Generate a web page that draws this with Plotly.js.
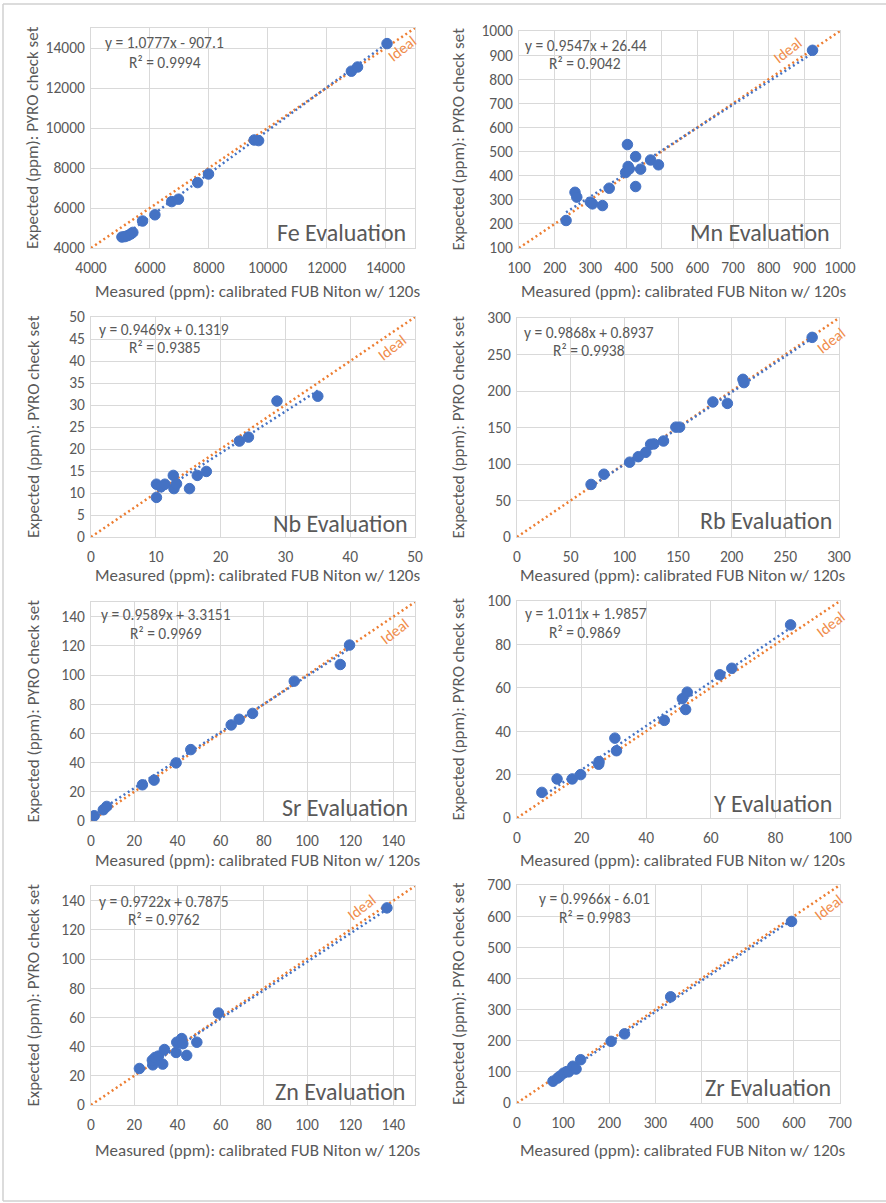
<!DOCTYPE html>
<html><head><meta charset="utf-8">
<script src="https://cdn.plot.ly/plotly-3.0.1.min.js"></script>
<style>html,body{margin:0;padding:0;background:#fff}</style>
</head><body><div id="chart" style="width:886px;height:1203px"></div>
<script>
// ---------------- DATA ----------------
const elements = ['Fe', 'Mn', 'Nb', 'Rb', 'Sr', 'Y', 'Zn', 'Zr'];

const feMeasured = [5050, 5150, 5250, 5350, 5420, 5750, 6170, 6740, 6970, 7620, 7990, 9540, 9690, 12840, 13050, 14050];
const feExpected = [4550, 4570, 4620, 4700, 4780, 5350, 5660, 6320, 6440, 7270, 7700, 9400, 9370, 12840, 13050, 14220];

const mnMeasured = [232, 257, 262, 300, 306, 334, 353, 404, 399, 406, 409, 427, 427, 441, 469, 491, 923];
const mnExpected = [214, 331, 311, 290, 283, 276, 348, 529, 413, 438, 428, 479, 355, 427, 465, 445, 920];

const nbMeasured = [10.1, 10.1, 10.8, 11.4, 12.7, 12.8, 13.2, 15.2, 16.4, 17.8, 22.9, 24.3, 28.7, 35.0];
const nbExpected = [9.0, 12.0, 11.4, 12.0, 14.0, 11.0, 12.1, 11.0, 14.0, 14.9, 21.8, 22.7, 30.9, 32.0];

const rbMeasured = [69, 81, 105, 113, 120, 124.5, 127.5, 136.5, 148, 151.5, 182.5, 196, 210.5, 211.5, 275];
const rbExpected = [72, 86, 102.5, 110, 116, 127, 127.5, 131.5, 150.5, 150.5, 185, 183, 216, 211.5, 273.5];

const srMeasured = [1.5, 5.7, 7.3, 23.8, 29.2, 39.4, 46.2, 64.9, 68.6, 74.8, 94.1, 115.4, 119.7];
const srExpected = [3.6, 7.7, 10.0, 24.8, 28.0, 39.8, 48.9, 65.8, 69.7, 73.7, 95.8, 107.2, 120.5];

const yMeasured = [7.7, 12.4, 17.1, 19.7, 25.3, 25.4, 30.3, 30.8, 45.6, 51.2, 52.7, 52.2, 62.8, 66.5, 84.7];
const yExpected = [11.8, 18.0, 18.0, 20.0, 24.8, 26.0, 36.8, 31.0, 45.0, 55.0, 58.0, 50.0, 66.0, 69.0, 89.0];

const znMeasured = [22.4, 28.6, 28.4, 29.7, 31.2, 33.2, 34.0, 39.4, 39.7, 42.0, 42.5, 44.3, 49.0, 59.0, 137.0];
const znExpected = [25.0, 27.5, 30.7, 32.6, 33.5, 28.0, 38.0, 36.0, 43.0, 45.5, 42.0, 34.0, 43.0, 63.0, 135.0];

const zrMeasured = [78, 88, 93, 101, 108, 112, 121, 128, 138, 204, 233, 333, 595];
const zrExpected = [70, 80, 86, 96, 101, 100, 118, 109, 139, 198, 222, 341, 583];

const fitSlopes = [1.0777, 0.9547, 0.9469, 0.9868, 0.9589, 1.011, 0.9722, 0.9966];
const fitIntercepts = [-907.1, 26.44, 0.1319, 0.8937, 3.3151, 1.9857, 0.7875, -6.01];
const fitEquations = ['y = 1.0777x - 907.1', 'y = 0.9547x + 26.44', 'y = 0.9469x + 0.1319', 'y = 0.9868x + 0.8937',
                      'y = 0.9589x + 3.3151', 'y = 1.011x + 1.9857', 'y = 0.9722x + 0.7875', 'y = 0.9966x - 6.01'];
const rSquared = ['0.9994', '0.9042', '0.9385', '0.9938', '0.9969', '0.9869', '0.9762', '0.9983'];

const axisMin = [4000, 100, 0, 0, 0, 0, 0, 0];
const axisMax = [15000, 1000, 50, 300, 150, 100, 150, 700];
const xStep = [2000, 100, 10, 50, 20, 20, 20, 100];
const yStep = [2000, 100, 5, 50, 20, 20, 20, 100];

const xAxisTitle = 'Measured (ppm): calibrated FUB Niton w/ 120s';
const yAxisTitle = 'Expected (ppm): PYRO check set';
const idealLabel = 'Ideal';

const measured = [feMeasured, mnMeasured, nbMeasured, rbMeasured, srMeasured, yMeasured, znMeasured, zrMeasured];
const expected = [feExpected, mnExpected, nbExpected, rbExpected, srExpected, yExpected, znExpected, zrExpected];

// ---------------- LAYOUT (pixels) ----------------
const W = 886, H = 1203;
const fx = p => p / W;
const fy = p => 1 - p / H;
const boxes = [[91,415,28,248],[519,840,31,248],[91,415,317,537],[517,839,318,537],
               [91,415,602,821],[517,840,601,818],[91,415,886,1105],[517,840,885,1103]];
const xTitleY = [291, 291, 576, 575, 860, 860, 1150, 1150];
const eqPos = [[103,43,127,62],[523,45,547,64],[97,329,127,347],[522,333,551,351],
               [99,614,128,633],[523,613,547,632],[97,901,126,919],[537,898,557,917]];
const evalPos = [[408,232],[832,232],[410,523],[834,521],[410,807],[834,803],[407,1091],[833,1087]];
const idealPos = [[402,49],[787,50],[392,348],[831,341],[394,631],[830,624],[361,907],[828,907]];

const FONT = "Carlito, Calibri, 'Open Sans', sans-serif";
const GRAY = '#595959';
const GRID = '#D9D9D9';
const BLUE = '#4472C4';
const ORANGE = '#ED7D31';

const traces = [];
const frameLine = (x0, y0, x1, y1) => ({type: 'line', xref: 'paper', yref: 'paper', x0: fx(x0), x1: fx(x1), y0: fy(y0), y1: fy(y1),
  line: {color: '#D0D0D0', width: 1.5}, layer: 'below'});
const layout = {
  width: W, height: H,
  margin: {l: 0, r: 0, t: 0, b: 0},
  paper_bgcolor: '#fff', plot_bgcolor: '#fff',
  showlegend: false,
  font: {family: FONT, color: GRAY},
  annotations: [],
  shapes: [frameLine(3, 4, 886, 4), frameLine(3, 4, 3, 1201), frameLine(3, 1201, 886, 1201)]
};

elements.forEach((el, i) => {
  const n = i + 1;
  const xa = 'x' + (n === 1 ? '' : n), ya = 'y' + (n === 1 ? '' : n);
  const xKey = 'xaxis' + (n === 1 ? '' : n), yKey = 'yaxis' + (n === 1 ? '' : n);
  const [l, r, t, b] = boxes[i];
  const common = {
    range: [axisMin[i], axisMax[i]], autorange: false, tick0: axisMin[i], tickformat: 'd',
    showgrid: true, gridcolor: GRID, gridwidth: 1, zeroline: false,
    showline: true, linecolor: GRID, linewidth: 1, mirror: true, ticks: '',
    tickfont: {family: FONT, size: 15.5, color: GRAY}, fixedrange: true
  };
  layout[xKey] = Object.assign({}, common, {domain: [fx(l), fx(r)], anchor: ya, dtick: xStep[i], ticklabelstandoff: 5});
  layout[yKey] = Object.assign({}, common, {domain: [fy(b), fy(t)], anchor: xa, dtick: yStep[i], ticklabelstandoff: 2});

  const xs = measured[i], ys = expected[i];
  // ideal line y = x
  traces.push({x: [axisMin[i], axisMax[i]], y: [axisMin[i], axisMax[i]], xaxis: xa, yaxis: ya,
               mode: 'lines', line: {color: ORANGE, width: 2.5, dash: '2px,3px'}, hoverinfo: 'skip'});
  // linear trendline
  const x0 = Math.min(...xs), x1 = Math.max(...xs);
  traces.push({x: [x0, x1], y: [fitSlopes[i] * x0 + fitIntercepts[i], fitSlopes[i] * x1 + fitIntercepts[i]],
               xaxis: xa, yaxis: ya, mode: 'lines', line: {color: BLUE, width: 2.5, dash: '2px,3px'}, hoverinfo: 'skip'});
  // points
  traces.push({x: xs, y: ys, xaxis: xa, yaxis: ya, mode: 'markers', name: el,
               marker: {color: BLUE, size: 10.5, line: {color: BLUE, width: 1}}});

  const e = eqPos[i];
  layout.annotations.push({xref: 'paper', yref: 'paper', x: fx(e[0]), y: fy(e[1]), xanchor: 'left', yanchor: 'middle',
    text: fitEquations[i], showarrow: false, font: {family: FONT, size: 15.5, color: GRAY}});
  layout.annotations.push({xref: 'paper', yref: 'paper', x: fx(e[2]), y: fy(e[3]), xanchor: 'left', yanchor: 'middle',
    text: 'R² = ' + rSquared[i], showarrow: false, font: {family: FONT, size: 15.5, color: GRAY}});
  const ev = evalPos[i];
  layout.annotations.push({xref: 'paper', yref: 'paper', x: fx(ev[0]), y: fy(ev[1]), xanchor: 'right', yanchor: 'middle',
    text: el + ' Evaluation', showarrow: false, font: {family: FONT, size: 24, color: GRAY}});
  const ip = idealPos[i];
  layout.annotations.push({xref: 'paper', yref: 'paper', x: fx(ip[0]), y: fy(ip[1]), xanchor: 'center', yanchor: 'middle',
    text: idealLabel, textangle: -38, showarrow: false, font: {family: FONT, size: 15.5, color: '#F08C4A'}});
  // axis titles
  layout.annotations.push({xref: 'paper', yref: 'paper', x: fx((l + r) / 2 + 4), y: fy(xTitleY[i]), xanchor: 'center', yanchor: 'middle',
    text: xAxisTitle, showarrow: false, font: {family: FONT, size: 17, color: GRAY}});
  layout.annotations.push({xref: 'paper', yref: 'paper', x: fx(i % 2 === 0 ? 33 : 458), y: fy((t + b) / 2), xanchor: 'center', yanchor: 'middle',
    text: yAxisTitle, textangle: -90, showarrow: false, font: {family: FONT, size: 17, color: GRAY}});
});

Plotly.newPlot('chart', traces, layout, {staticPlot: true, displayModeBar: false});
</script>
</body></html>
